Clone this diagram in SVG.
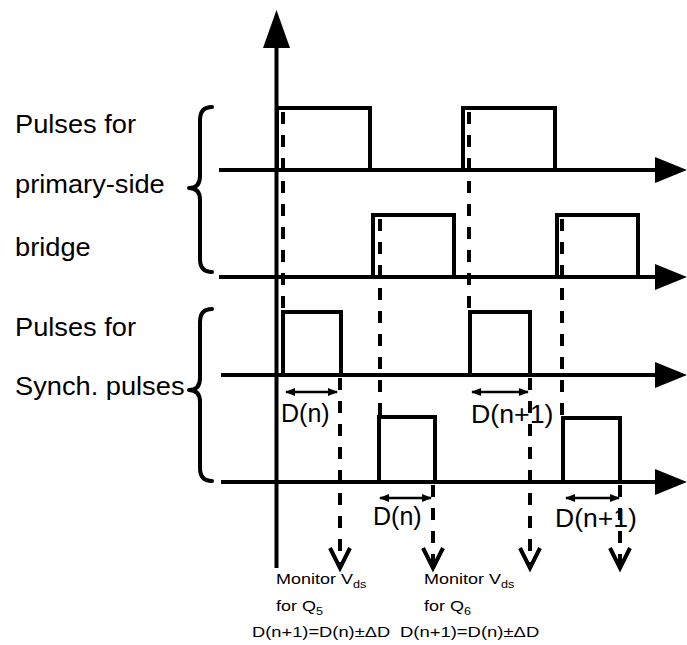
<svg xmlns="http://www.w3.org/2000/svg" width="687" height="645" viewBox="0 0 687 645">
<style>
.ln{fill:none;stroke:#000;stroke-width:4;stroke-linecap:butt;stroke-linejoin:miter}
.ds{fill:none;stroke:#000;stroke-width:4;stroke-dasharray:12 11}
.chev{fill:none;stroke:#000;stroke-width:4;stroke-linejoin:miter}
.br{fill:none;stroke:#000;stroke-width:4;stroke-linecap:round;stroke-linejoin:round}
.dim{fill:none;stroke:#000;stroke-width:2.5}
.hd{fill:#000;stroke:none}
.big{font-family:"Liberation Sans",Arial,Helvetica,sans-serif;font-size:25px;fill:#000}
.sm{font-family:"Liberation Sans",Arial,Helvetica,sans-serif;font-size:15px;fill:#000}
.sub{font-size:10.5px}
</style>
<defs>
<marker id="dh" viewBox="0 0 10 10" refX="9" refY="5" markerWidth="10" markerHeight="10" markerUnits="userSpaceOnUse" orient="auto-start-reverse">
<path d="M0,1 L10,5 L0,9 Z" fill="#000"/>
</marker>
</defs>
<rect width="687" height="645" fill="#fff"/>

<g id="labels">
<text class="big" transform="translate(15,133) scale(1.09,1)">Pulses for</text>
<text class="big" transform="translate(15,193) scale(1.09,1)">primary-side</text>
<text class="big" transform="translate(15,256) scale(1.09,1)">bridge</text>
<text class="big" transform="translate(15,336) scale(1.09,1)">Pulses for</text>
<text class="big" transform="translate(15,395) scale(1.09,1)">Synch. pulses</text>
</g>

<g id="braces">
<path class="br" d="M212 107 Q200 107 200 120 L200 176 Q200 188 189 188 Q200 188 200 200 L200 259 Q200 272 212 272"/>
<path class="br" d="M212 309 Q200 309 200 322 L200 378 Q200 390 189 390 Q200 390 200 402 L200 468 Q200 481 212 481"/>
</g>

<g id="axes">
<line class="ln" x1="276.5" y1="44" x2="276.5" y2="568"/>
<polygon class="hd" points="276.5,10 263,48 290,48"/>
<line class="ln" x1="219" y1="170" x2="658" y2="170"/>
<polygon class="hd" points="687,170 655,157 655,183"/>
<line class="ln" x1="219" y1="277" x2="658" y2="277"/>
<polygon class="hd" points="687,277 655,264 655,290"/>
<line class="ln" x1="221" y1="375" x2="658" y2="375"/>
<polygon class="hd" points="687,375 655,362 655,388"/>
<line class="ln" x1="221" y1="482" x2="658" y2="482"/>
<polygon class="hd" points="687,482 655,469 655,495"/>
</g>

<g id="pulses-primary">
<path class="ln" d="M277 170 V108 H370 V170"/>
<path class="ln" d="M463 170 V108 H555 V170"/>
<path class="ln" d="M373 277 V215 H454 V277"/>
<path class="ln" d="M557 277 V215 H638 V277"/>
</g>

<g id="pulses-synch">
<path class="ln" d="M283 375 V312 H341 V375"/>
<path class="ln" d="M470 375 V312 H530 V375"/>
<path class="ln" d="M379 482 V417 H435 V482"/>
<path class="ln" d="M563 482 V418 H620 V482"/>
</g>

<g id="duration-labels">
<text class="big" x="281" y="422">D(n)</text>
<text class="big" transform="translate(471,423) scale(1.07,1)">D(n+1)</text>
<text class="big" x="373" y="525">D(n)</text>
<text class="big" transform="translate(555,527) scale(1.06,1)">D(n+1)</text>
<line class="dim" x1="286" y1="392" x2="337" y2="392" marker-start="url(#dh)" marker-end="url(#dh)"/>
<line class="dim" x1="472" y1="392" x2="528" y2="392" marker-start="url(#dh)" marker-end="url(#dh)"/>
<line class="dim" x1="380" y1="498" x2="431" y2="498" marker-start="url(#dh)" marker-end="url(#dh)"/>
<line class="dim" x1="566" y1="498" x2="619" y2="498" marker-start="url(#dh)" marker-end="url(#dh)"/>
</g>

<g id="connectors">
<line class="ds" x1="283" y1="112" x2="283" y2="312"/>
<line class="ds" x1="469" y1="112" x2="469" y2="312"/>
<line class="ds" x1="380" y1="219" x2="380" y2="417"/>
<line class="ds" x1="562" y1="219" x2="562" y2="418"/>
<line class="ds" x1="340" y1="378" x2="340" y2="564"/>
<line class="ds" x1="530" y1="378" x2="530" y2="564"/>
<line class="ds" x1="433" y1="485" x2="433" y2="564"/>
<line class="ds" x1="620" y1="485" x2="620" y2="564"/>
<polyline class="chev" points="330,548 340,568 350,548"/>
<polyline class="chev" points="423,548 433,568 443,548"/>
<polyline class="chev" points="520,548 530,568 540,548"/>
<polyline class="chev" points="610,548 620,568 630,548"/>
</g>

<g id="monitor-q5">
<text class="sm" transform="translate(276,584) scale(1.2,1)">Monitor V<tspan class="sub" dy="4">ds</tspan></text>
<text class="sm" transform="translate(276,611) scale(1.2,1)">for Q<tspan class="sub" dy="4">5</tspan></text>
<text class="sm" transform="translate(252,637) scale(1.22,1)">D(n+1)=D(n)±ΔD</text>
</g>
<g id="monitor-q6">
<text class="sm" transform="translate(424,584) scale(1.2,1)">Monitor V<tspan class="sub" dy="4">ds</tspan></text>
<text class="sm" transform="translate(424,611) scale(1.2,1)">for Q<tspan class="sub" dy="4">6</tspan></text>
<text class="sm" transform="translate(400,637) scale(1.23,1)">D(n+1)=D(n)±ΔD</text>
</g>
</svg>
